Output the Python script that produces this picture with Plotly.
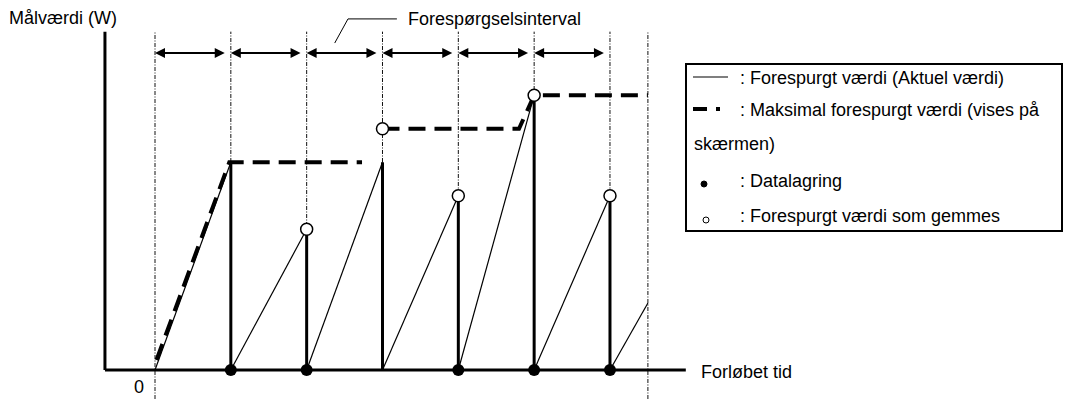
import plotly.graph_objects as go

# ---------------- data (time in request intervals, value in arbitrary W units) -------------
interval_bounds = [0, 1, 2, 3, 4, 5, 6]          # request-interval boundaries (dotted lines)
tail_bound = [6.5]                                # last dotted line (half interval)
ramp_start = [0, 1, 2, 3, 4, 5, 6]
ramp_end = [1, 2, 3, 4, 5, 6, 6.5]
ramp_peak = [6.2, 4.2, 6.2, 5.2, 8.2, 5.2, 2.0]   # requested (actual) value at ramp end
max_t = [0.02, 0.98, 2.73, None, 3.0, 4.8, 5.0, 6.5]
max_v = [0.3, 6.2, 6.2, None, 7.2, 7.2, 8.2, 8.2]  # maximum requested value (on screen)
stored_t = [2, 3, 4, 5, 6]
stored_v = [4.2, 7.2, 5.2, 8.2, 5.2]              # requested value that is saved (open)
saved_t = [1, 2, 4, 5, 6]
saved_v = [0, 0, 0, 0, 0]                         # data storage (filled)

# ---------------- geometry / style ----------------
W, H = 1065, 399
X0_PX, PX_PER_T = 155, 75.83
Y0_PX, PX_PER_V = 370, 33.5
x_range = [-X0_PX / PX_PER_T, (W - X0_PX) / PX_PER_T]
y_range = [-(H - Y0_PX) / PX_PER_V, Y0_PX / PX_PER_V]
AXIS_T, AXIS_END_T = -0.66, 7.0
V_TOP, V_BOTTOM = 10.1, y_range[0]
ARROW_V = 9.46
FONT = "Liberation Sans, Arial, sans-serif"
FS = 18


def px(x):
    return x / W


def py(y):
    return 1 - y / H


fig = go.Figure()

# dotted interval lines
dx, dy = [], []
for t in interval_bounds:
    lo = V_BOTTOM if t == interval_bounds[0] else 0
    dx += [t, t, None]
    dy += [lo, V_TOP, None]
for t in tail_bound:
    dx += [t, t, None]
    dy += [V_BOTTOM, V_TOP, None]
fig.add_trace(go.Scatter(x=dx, y=dy, mode="lines",
                         line=dict(color="#111", width=1, dash="4px,1.5px,1px,1.5px"),
                         hoverinfo="skip"))

# thin ramps (actual requested value)
rx, ry = [], []
for s, e, p in zip(ramp_start, ramp_end, ramp_peak):
    rx += [s, e, None]
    ry += [0, p, None]
fig.add_trace(go.Scatter(x=rx, y=ry, mode="lines",
                         line=dict(color="black", width=1.2), hoverinfo="skip"))

# thick drops at end of each interval
vx, vy = [], []
for e, p in zip(ramp_end[:-1], ramp_peak[:-1]):
    vx += [e, e, None]
    vy += [0, p, None]
fig.add_trace(go.Scatter(x=vx, y=vy, mode="lines",
                         line=dict(color="black", width=3), hoverinfo="skip"))

# dashed maximum value
fig.add_trace(go.Scatter(x=max_t, y=max_v, mode="lines", connectgaps=False,
                         line=dict(color="black", width=4, dash="17px,9px"),
                         hoverinfo="skip"))

# axes
fig.add_trace(go.Scatter(x=[AXIS_T, AXIS_T, None, AXIS_T, AXIS_END_T],
                         y=[V_TOP, 0, None, 0, 0], mode="lines",
                         line=dict(color="black", width=3), hoverinfo="skip"))

# leader line for interval label
fig.add_trace(go.Scatter(x=[2.37, 2.545, 3.19], y=[9.76, 10.48, 10.48], mode="lines",
                         line=dict(color="black", width=1), hoverinfo="skip"))

# markers
fig.add_trace(go.Scatter(x=saved_t, y=saved_v, mode="markers", cliponaxis=False,
                         marker=dict(color="black", size=12), hoverinfo="skip"))
fig.add_trace(go.Scatter(x=stored_t, y=stored_v, mode="markers", cliponaxis=False,
                         marker=dict(color="white", size=12,
                                     line=dict(color="black", width=1.5)),
                         hoverinfo="skip"))

annotations = []
# double-headed interval arrows
for a, b in zip(interval_bounds[:-1], interval_bounds[1:]):
    annotations.append(dict(x=b - 0.08, y=ARROW_V, ax=a - 0.02, ay=ARROW_V,
                            xref="x", yref="y", axref="x", ayref="y", text="",
                            showarrow=True, arrowhead=2, arrowside="end+start",
                            arrowsize=1, arrowwidth=2, arrowcolor="black"))

def label(text, x, y, xanchor="left"):
    annotations.append(dict(text=text, x=px(x), y=py(y), xref="paper", yref="paper",
                            xanchor=xanchor, yanchor="middle", showarrow=False,
                            font=dict(family=FONT, size=FS, color="black")))

label("Målværdi (W)", 7, 18)
label("Forespørgselsinterval", 406, 19)
label("0", 139, 387, "center")
label("Forløbet tid", 699, 372)
label(": Forespurgt værdi (Aktuel værdi)", 738, 78)
label(": Maksimal forespurgt værdi (vises på", 738, 110)
label("skærmen)", 692, 144)
label(": Datalagring", 738, 181)
label(": Forespurgt værdi som gemmes", 738, 216)

shapes = [
    dict(type="rect", xref="paper", yref="paper", x0=px(686), x1=px(1062),
         y0=py(231), y1=py(64), line=dict(color="black", width=2), fillcolor="white",
         layer="below"),
    dict(type="line", xref="paper", yref="paper", x0=px(693), x1=px(728),
         y0=py(77), y1=py(77), line=dict(color="black", width=1.2)),
    dict(type="line", xref="paper", yref="paper", x0=px(693), x1=px(707),
         y0=py(109), y1=py(109), line=dict(color="black", width=4)),
    dict(type="line", xref="paper", yref="paper", x0=px(716), x1=px(720),
         y0=py(109), y1=py(109), line=dict(color="black", width=4)),
    dict(type="circle", xref="paper", yref="paper", x0=px(701), x1=px(707),
         y0=py(187), y1=py(181), line=dict(color="black", width=1), fillcolor="black"),
    dict(type="circle", xref="paper", yref="paper", x0=px(703), x1=px(709),
         y0=py(223), y1=py(217), line=dict(color="black", width=1), fillcolor="white"),
]

fig.update_layout(
    width=W, height=H, autosize=False,
    margin=dict(l=0, r=0, t=0, b=0, pad=0),
    paper_bgcolor="white", plot_bgcolor="white",
    showlegend=False,
    xaxis=dict(range=x_range, visible=False, fixedrange=True),
    yaxis=dict(range=y_range, visible=False, fixedrange=True),
    annotations=annotations, shapes=shapes,
    font=dict(family=FONT, size=FS, color="black"),
)

fig.write_html("out.html", config={"displayModeBar": False},
               post_script="document.body.style.margin='0';"
                           "document.body.style.overflow='hidden';")
